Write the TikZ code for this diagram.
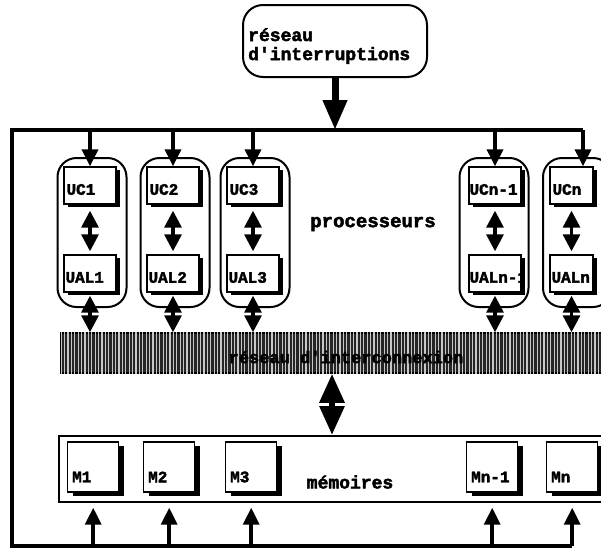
\documentclass[tikz,border=0pt]{standalone}
\usepackage{fontspec}
\newfontfamily\cour[BoldFeatures={FakeBold=2.5}]{Liberation Mono}
\usetikzlibrary{arrows.meta,shadows,calc,patterns.meta}
\begin{document}
\begin{tikzpicture}[x=1pt,y=-1pt,line join=miter,
  capsule/.style={draw,line width=2pt,rounded corners=19pt,minimum width=69pt,minimum height=149pt,inner sep=0pt},
  unit/.style={draw,fill=white,line width=1.4pt,inner sep=0pt,minimum width=52pt,minimum height=37pt,
    drop shadow={opacity=1,fill=black,shadow xshift=3.5pt,shadow yshift=-3pt}},
  memu/.style={draw,fill=white,line width=1.4pt,inner sep=0pt,minimum width=51pt,minimum height=50pt,
    drop shadow={opacity=1,fill=black,shadow xshift=5pt,shadow yshift=-4pt}},
  lbl/.style={font=\cour\bfseries\fontsize{16}{18}\selectfont,inner sep=0pt,anchor=west},
  bigtxt/.style={font=\cour\bfseries\fontsize{#1}{19}\selectfont,inner sep=0pt},
  bus/.style={line width=4.5pt},
  drop/.style={line width=3.5pt,-{Triangle[length=17pt,width=16pt]}},
  dbl/.style={line width=3.2pt,{Triangle[length=17pt,width=17pt]}-{Triangle[length=17pt,width=17pt]}},
  bigarr/.style={line width=7pt,-{Triangle[length=30pt,width=23pt]}},
  bigdbl/.style={line width=6pt,{Triangle[length=29pt,width=24pt]}-{Triangle[length=29pt,width=24pt]}}
]
\useasboundingbox (0,0) rectangle (601,549);

% interrupt network
\node[draw,line width=2pt,rounded corners=20pt,minimum width=184pt,minimum height=72pt] (intr) at (335,41) {};
\node[bigtxt=18,align=left,anchor=west] (intrtxt) at (248,46) {réseau\\d\textquotesingle interruptions};

% bus corners
\coordinate (TL) at (12,130);
\coordinate (TR) at (583,130);
\coordinate (BL) at (12,546);

% processors
\foreach \i/\cx in {1/92,2/175,3/255,4/494,5/577.5}{
  \node[capsule] (P\i) at (\cx,232.5) {};
}
\foreach \i/\cx/\a/\b in {1/90/UC1/UAL1,2/173/UC2/UAL2,3/253/UC3/UAL3}{
  \node[unit] (UC\i) at (\cx,185.5) {};
  \node[unit] (UAL\i) at (\cx,273.5) {};
  \node[lbl] at ($(UC\i.west)+(3,4)$) {\a};
  \node[lbl] at ($(UAL\i.west)+(2,4)$) {\b};
}
\node[unit] (UC4) at (495,185.5) {};
\node[unit] (UAL4) at (495,273.5) {};
\begin{scope}
  \clip (UC4.north west) rectangle (UC4.south east);
  \node[lbl] at ($(UC4.west)+(1,4)$) {UCn-1};
\end{scope}
\begin{scope}
  \clip (UAL4.north west) rectangle (UAL4.south east);
  \node[lbl] at ($(UAL4.west)+(1,4)$) {UALn-1};
\end{scope}
\draw[line width=1.4pt] (UC4.north east) -- (UC4.south east);
\draw[line width=1.4pt] (UAL4.north east) -- (UAL4.south east);
\node[unit,minimum width=43pt] (UC5) at (571.5,185.5) {};
\node[unit,minimum width=43pt] (UAL5) at (571.5,273.5) {};
\node[lbl] at ($(UC5.west)+(3,4)$) {UCn};
\node[lbl] at ($(UAL5.west)+(2,4)$) {UALn};

\node[bigtxt=19] (proc) at (373,224) {processeurs};

% interconnection network
\node[draw,line width=1.5pt,fill=black!85,minimum width=579pt,minimum height=40pt,inner sep=0pt] (ic) at (350.5,353) {};
\fill[pattern={Lines[angle=90,distance=3.4pt,line width=1.3pt]},pattern color=black!22] (ic.north west) rectangle (ic.south east);
\node[bigtxt=17] (ictxt) at (346,357) {réseau d\textquotesingle interconnexion};

% memories
\node[draw,line width=2pt,minimum width=581pt,minimum height=66pt,inner sep=0pt] (mem) at (349.5,469) {};
\foreach \i/\l/\t in {1/67/M1,2/143/M2,3/225/M3,4/466/Mn-1,5/546/Mn}{
  \node[memu,anchor=west] (M\i) at (\l,467) {};
  \node[lbl] at ($(M\i.west)+(5,10)$) {\t};
}
\node[bigtxt=18] (memtxt) at (350,482) {mémoires};

% frame bus
\draw[bus] (TR) -- (TL) -- (BL) -- (BL -| M5.south);

% connectors
\draw[bigarr] (intr.south) -- (intr.south |- TL);
\foreach \i in {1,2,3,4}{
  \draw[drop] (UC\i.north |- TL) -- (UC\i.north);
}
\draw[drop] (TR) -- (TR |- UC5.north);
\foreach \i in {1,...,5}{
  \draw[dbl] ($(UC\i.south)+(0,6)$) -- ($(UAL\i.north)+(0,-3)$);
  \draw[dbl] ($(UAL\i.south)+(0,3)$) -- (UAL\i.south |- ic.north);
  \draw[drop] (M\i.south |- BL) -- ($(M\i.south)+(0,15)$);
}
\coordinate (bx) at (332,0);
\draw[bigdbl] (bx |- ic.south) -- (bx |- mem.north);
\end{tikzpicture}
\end{document}
